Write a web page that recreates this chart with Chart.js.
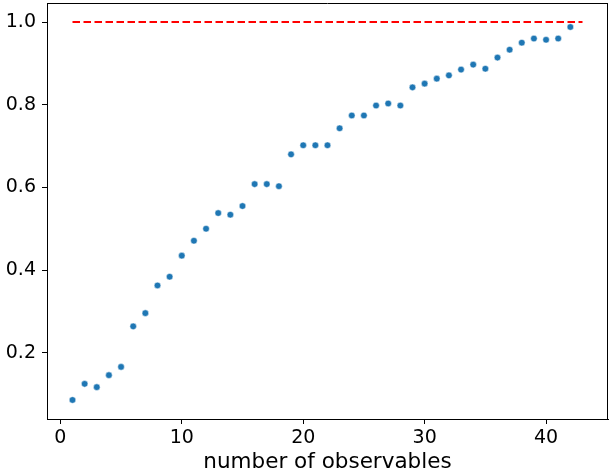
<!DOCTYPE html>
<html>
<head>
<meta charset="utf-8">
<script src="https://cdn.jsdelivr.net/npm/chart.js@4"></script>
<style>
  html, body { margin: 0; padding: 0; background: #fff; }
  #wrap { width: 610px; height: 472px; position: relative; }
</style>
</head>
<body>
<div id="wrap"><canvas id="c" width="610" height="472"></canvas></div>
<script>
const observables = [1,2,3,4,5,6,7,8,9,10,11,12,13,14,15,16,17,18,19,20,21,22,23,24,25,26,27,28,29,30,31,32,33,34,35,36,37,38,39,40,41,42];
const scores = [0.086,0.125,0.117,0.146,0.166,0.264,0.296,0.363,0.384,0.435,0.471,0.500,0.538,0.534,0.555,0.608,0.608,0.603,0.680,0.702,0.702,0.702,0.743,0.774,0.774,0.798,0.803,0.798,0.842,0.851,0.863,0.871,0.885,0.897,0.887,0.914,0.933,0.950,0.960,0.957,0.960,0.988];
const refX = [1, 43];
const refY = [1.0, 1.0];
const xTicks = [0, 10, 20, 30, 40];
const yTicks = [0.2, 0.4, 0.6, 0.8, 1.0];
const xLabel = 'number of observables';

const frame = {
  id: 'frame',
  afterDraw(chart) {
    const a = chart.chartArea, ctx = chart.ctx;
    ctx.save();
    ctx.strokeStyle = '#000';
    ctx.lineWidth = 1;
    ctx.beginPath();
    ctx.moveTo(a.left, Math.round(a.top) + 0.5);
    ctx.lineTo(a.right, Math.round(a.top) + 0.5);
    ctx.moveTo(Math.round(a.right) - 0.5, a.top);
    ctx.lineTo(Math.round(a.right) - 0.5, a.bottom);
    ctx.stroke();
    ctx.restore();
  }
};

new Chart(document.getElementById('c'), {
  type: 'scatter',
  data: {
    datasets: [
      {
        data: observables.map((x, i) => ({ x, y: scores[i] })),
        backgroundColor: '#1f77b4',
        borderColor: '#ffffff',
        borderWidth: 0.5,
        pointRadius: 3.3,
        order: 1
      },
      {
        type: 'line',
        data: refX.map((x, i) => ({ x, y: refY[i] })),
        borderColor: '#ff0000',
        borderWidth: 2,
        borderDash: [7.5, 3.5],
        pointRadius: 0,
        fill: false,
        order: 2
      }
    ]
  },
  plugins: [frame],
  options: {
    responsive: false,
    animation: false,
    layout: { autoPadding: false, padding: { top: 3, right: 2, left: 0, bottom: 0 } },
    plugins: { legend: { display: false }, tooltip: { enabled: false } },
    scales: {
      x: {
        type: 'linear',
        min: -1.1, max: 45.1,
        afterBuildTicks: s => { s.ticks = xTicks.map(v => ({ value: v })); },
        afterFit: s => { s.height = 53; s.paddingLeft = 0; s.paddingRight = 0; },
        grid: { drawOnChartArea: false, drawTicks: true, tickLength: 5, color: '#000' },
        border: { display: true, color: '#000', width: 1 },
        ticks: { color: '#000', font: { family: 'DejaVu Sans', size: 19 }, padding: 3, maxRotation: 0, callback: v => String(v) },
        title: { display: true, text: xLabel, color: '#000', font: { family: 'DejaVu Sans', size: 21.5 }, padding: { top: 0, bottom: -3 } }
      },
      y: {
        type: 'linear',
        min: 0.040, max: 1.046,
        afterBuildTicks: s => { s.ticks = yTicks.map(v => ({ value: v })); },
        afterFit: s => { s.width = 47; s.paddingTop = 0; s.paddingBottom = 0; },
        grid: { drawOnChartArea: false, drawTicks: true, tickLength: 5, color: '#000' },
        border: { display: true, color: '#000', width: 1 },
        ticks: { color: '#000', font: { family: 'DejaVu Sans', size: 19 }, padding: 6, callback: v => v.toFixed(1) }
      }
    }
  }
});
</script>
</body>
</html>
